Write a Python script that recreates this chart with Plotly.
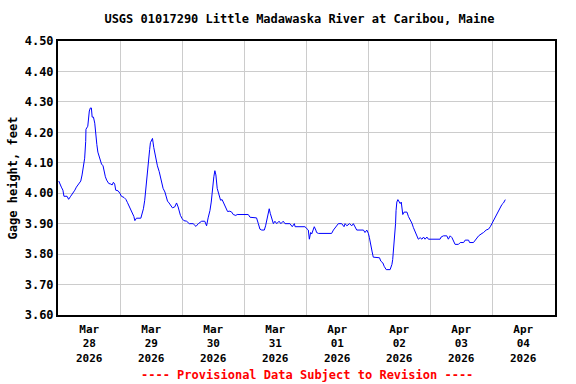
import pandas as pd
import plotly.graph_objects as go

# hours since 2026-03-28 00:00 and gage height (feet)
hours = [0.3, 0.7, 1.3, 1.9, 2.3, 3.5, 4.1, 4.9, 5.8, 6.5, 7.1, 8.0, 8.8, 9.3, 9.8, 10.3, 10.7, 10.8,
         11.5, 11.8, 12.1, 12.5, 12.9, 13.2, 13.7, 14.2, 14.5, 15.0, 15.4, 15.7, 16.2, 16.8, 17.4, 17.8,
         18.3, 18.8, 19.6, 20.4, 20.9, 21.4, 21.9, 22.3, 23.2, 23.9, 24.5, 25.5, 26.2, 26.8, 27.7, 28.4,
         28.9, 29.3, 29.7, 30.3, 32.0, 32.5, 33.0, 33.5, 33.9, 34.3, 34.8, 35.4, 35.7, 36.1, 36.5, 37.0,
         37.4, 38.1, 38.4, 39.1, 39.6, 40.1, 40.6, 41.3, 41.7, 42.3, 42.9, 43.6, 44.2, 45.1, 45.8, 46.4,
         46.8, 47.3, 48.0, 48.6, 49.7, 50.7, 52.2, 53.3, 54.2, 55.5, 56.7, 57.4, 58.0, 58.7, 59.2, 59.7,
         60.2, 60.6, 61.0, 61.5, 62.2, 62.8, 63.4, 64.1, 64.9, 65.5, 66.4, 67.1, 67.7, 68.7, 69.2, 73.5,
         74.2, 75.4, 76.7, 77.4, 78.0, 78.7, 79.7, 80.2, 80.7, 81.2, 81.6, 82.0, 82.5, 83.2, 83.8, 84.5,
         85.4, 86.1, 87.0, 87.7, 89.6, 90.5, 91.3, 91.6, 95.4, 96.1, 96.7, 97.1, 97.6, 98.0, 98.6, 99.0,
         99.6, 99.9, 100.6, 105.7, 106.4, 107.3, 108.3, 109.6, 110.5, 110.9, 111.6, 112.6, 113.5, 114.1,
         114.8, 115.4, 118.0, 118.6, 119.3, 119.9, 120.3, 120.8, 121.3, 121.8, 123.2, 124.2, 124.7, 125.5,
         126.0, 126.8, 128.3, 129.0, 129.3, 129.6, 130.0, 130.4, 130.6, 130.9, 131.3, 131.8, 132.2, 132.6,
         132.9, 133.2, 133.7, 134.8, 135.4, 136.0, 136.7, 137.3, 138.0, 138.6, 139.2, 139.9, 140.6, 141.2,
         141.8, 142.5, 143.1, 147.6, 148.0, 148.9, 150.2, 150.8, 151.5, 152.2, 152.8, 153.4, 154.7, 155.4,
         156.7, 157.3, 158.6, 159.0, 160.5, 161.2, 161.8, 162.5, 163.8, 164.4, 165.4, 166.3, 167.0, 167.6,
         168.3, 168.9, 169.6, 170.2, 170.8, 171.5, 172.1, 172.8]
gage = [4.04, 4.03, 4.02, 4.01, 3.99, 3.99, 3.98, 3.99, 4.00, 4.01, 4.02, 4.03, 4.04, 4.06, 4.09, 4.115,
        4.17, 4.21, 4.22, 4.25, 4.27, 4.28, 4.28, 4.25, 4.25, 4.23, 4.19, 4.16, 4.135, 4.127, 4.113, 4.096,
        4.09, 4.07, 4.054, 4.043, 4.032, 4.03, 4.027, 4.036, 4.03, 4.01, 4.008, 4.00, 3.99, 3.986, 3.98,
        3.97, 3.955, 3.943, 3.932, 3.924, 3.91, 3.918, 3.918, 3.932, 3.949, 3.977, 4.016, 4.06, 4.104,
        4.143, 4.166, 4.177, 4.18, 4.15, 4.132, 4.11, 4.09, 4.071, 4.054, 4.032, 4.016, 4.004, 3.988,
        3.974, 3.968, 3.96, 3.952, 3.955, 3.968, 3.955, 3.938, 3.927, 3.916, 3.91, 3.908, 3.90, 3.90,
        3.891, 3.90, 3.908, 3.908, 3.893, 3.919, 3.943, 3.971, 4.021, 4.054, 4.074, 4.06, 4.016, 3.993,
        3.977, 3.979, 3.966, 3.955, 3.94, 3.941, 3.938, 3.93, 3.927, 3.93, 3.93, 3.921, 3.921, 3.919,
        3.90, 3.882, 3.879, 3.879, 3.893, 3.916, 3.941, 3.949, 3.934, 3.916, 3.90, 3.908, 3.90, 3.908,
        3.90, 3.908, 3.90, 3.90, 3.89, 3.90, 3.89, 3.89, 3.882, 3.879, 3.849, 3.871, 3.866, 3.879, 3.89,
        3.879, 3.871, 3.868, 3.868, 3.879, 3.89, 3.90, 3.90, 3.89, 3.90, 3.893, 3.90, 3.893, 3.90, 3.886,
        3.879, 3.879, 3.871, 3.879, 3.868, 3.854, 3.827, 3.81, 3.79, 3.79, 3.788, 3.777, 3.771, 3.76,
        3.749, 3.749, 3.766, 3.782, 3.81, 3.854, 3.90, 3.943, 3.971, 3.979, 3.971, 3.966, 3.971, 3.957,
        3.93, 3.938, 3.938, 3.923, 3.914, 3.902, 3.887, 3.872, 3.858, 3.849, 3.854, 3.849, 3.856, 3.849,
        3.856, 3.849, 3.849, 3.856, 3.86, 3.86, 3.849, 3.86, 3.854, 3.843, 3.832, 3.832, 3.838, 3.838,
        3.846, 3.846, 3.838, 3.838, 3.846, 3.854, 3.86, 3.868, 3.871, 3.879, 3.882, 3.89, 3.90, 3.912,
        3.923, 3.932, 3.943, 3.952, 3.963, 3.968, 3.979]

day_labels = ["2026-03-28", "2026-03-29", "2026-03-30", "2026-03-31",
              "2026-04-01", "2026-04-02", "2026-04-03", "2026-04-04"]
y_ticks = [3.60, 3.70, 3.80, 3.90, 4.00, 4.10, 4.20, 4.30, 4.40, 4.50]

title_text = "USGS 01017290 Little Madawaska River at Caribou, Maine"
y_title = "Gage height, feet"
footer = "---- Provisional Data Subject to Revision ----"

base = pd.Timestamp("2026-03-28 00:00")
times = [base + pd.Timedelta(hours=h) for h in hours]
days = [pd.Timestamp(d) for d in day_labels]
noon = [d + pd.Timedelta(hours=12) for d in days]
midnights = days + [days[-1] + pd.Timedelta(days=1)]

FONT = "DejaVu Sans Mono"
TXT = dict(family=FONT, size=12, color="black", weight="bold")

fig = go.Figure()
fig.add_trace(go.Scatter(x=times, y=gage, mode="lines",
                         line=dict(color="#0000ff", width=1), showlegend=False,
                         hoverinfo="x+y"))

# three-line date labels under each day (month / day / year)
annotations = []
for d, xn in zip(days, noon):
    annotations.append(dict(text=f"{d.strftime('%b')}<br>{d.strftime('%d')}<br>{d.year}",
                            x=xn, xref="x", y=0, yref="paper", yshift=-28.5,
                            xanchor="center", yanchor="middle", showarrow=False,
                            font=dict(family=FONT, size=11, color="black", weight="bold")))
annotations.append(dict(text=footer, xref="paper", yref="paper", x=0.5, y=0,
                        yshift=-60, xanchor="center", yanchor="middle", showarrow=False,
                        font=dict(family=FONT, size=12, color="#ff0000", weight="bold")))

fig.update_layout(
    width=576, height=384,
    margin=dict(l=58, r=21, t=41, b=69),
    paper_bgcolor="white", plot_bgcolor="white",
    font=TXT,
    title=dict(text=title_text, x=299.5 / 576, xref="container", xanchor="center",
               y=1 - 19 / 384, yref="container", yanchor="middle", font=TXT),
    annotations=annotations,
)

fig.update_xaxes(
    range=[midnights[0], midnights[-1]], automargin=False,
    tickmode="array", tickvals=noon, showticklabels=False,
    showgrid=False, ticks="", zeroline=False,
    showline=True, linecolor="black", linewidth=2, mirror=True,
    minor=dict(tickmode="array", tickvals=midnights, showgrid=True,
               gridcolor="#cccccc", gridwidth=1, ticks=""),
)
fig.update_yaxes(
    range=[3.60, 4.50], automargin=False,
    tickmode="array", tickvals=y_ticks, ticktext=[f"{v:.2f}" for v in y_ticks],
    showgrid=True, gridcolor="#cccccc", gridwidth=1, ticks="", zeroline=False,
    showline=True, linecolor="black", linewidth=2, mirror=True,
    title=dict(text=y_title, standoff=4, font=TXT),
    tickfont=TXT,
)

fig.write_html("out.html", config={"displayModeBar": False},
               post_script="document.body.style.margin='0';")
